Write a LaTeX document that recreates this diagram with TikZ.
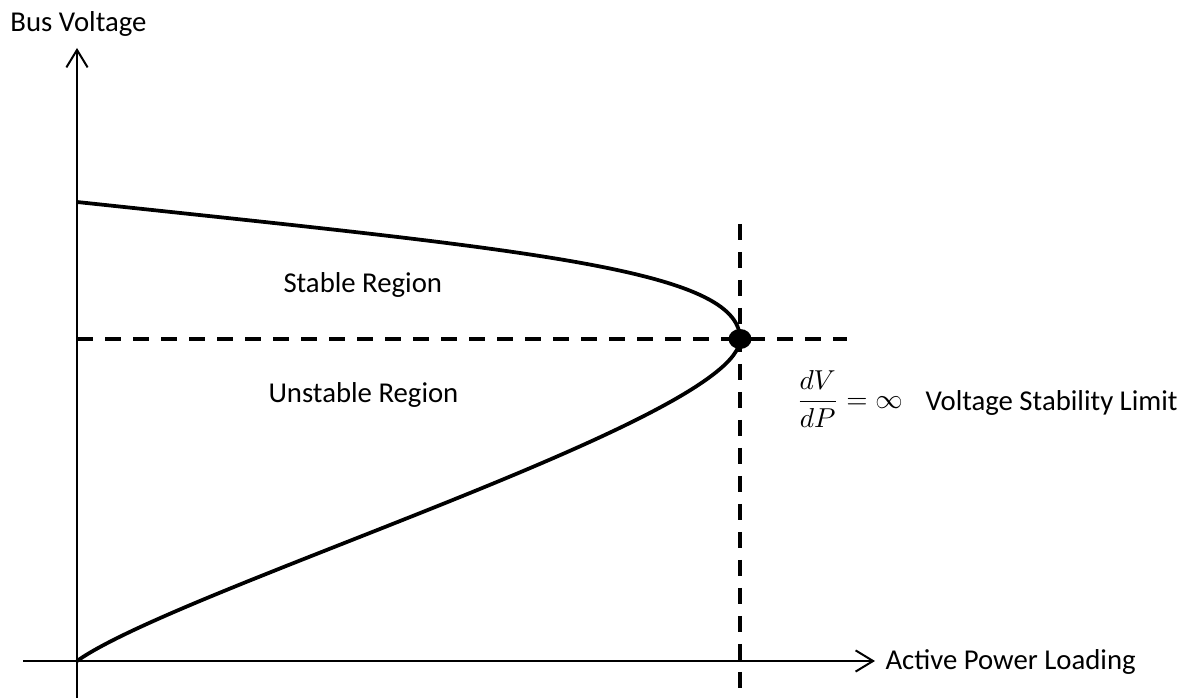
\documentclass[tikz,border=0pt]{standalone}
\usepackage{amsmath}
\usepackage{amssymb}
\usepackage{fontspec}
\setmainfont{Carlito}
\usetikzlibrary{arrows.meta}

\begin{document}
\begin{tikzpicture}[x=0.4pt,y=0.4pt,
  axis/.style={line width=0.8pt,-{Straight Barb[length=7pt,width=8.5pt]}},
  limitline/.style={line width=1.6pt,dash pattern=on 6.4pt off 4.8pt},
  pvcurve/.style={line width=1.5pt},
  lbl/.style={font=\fontsize{11.5}{14}\selectfont,inner sep=0pt,anchor=base west}]
\useasboundingbox (0,0) rectangle (1193,698);

\coordinate (O) at (77,37);
\coordinate (ybot) at (77,0);
\coordinate (ytop) at (77,650);
\coordinate (xleft) at (23,37);
\coordinate (xright) at (875,37);
\coordinate (vmax) at (77,496);
\coordinate (nose) at (740,359);
\coordinate (hstart) at (77,359);
\coordinate (hend) at (847,359);
\coordinate (vtop) at (740,474);
\coordinate (vbot) at (740,0);

\draw[axis] (ybot) -- (ytop);
\draw[axis] (xleft) -- (xright);
\node[lbl] (ylabel) at (10,666) {Bus Voltage};
\node[lbl] (xlabel) at (885,28) {Active Power Loading};

\draw[limitline] (hstart) -- (hend);
\draw[limitline] (vtop) -- (vbot);

\draw[pvcurve] (vmax) .. controls (527,448) and (740,429) .. (nose)
  .. controls (740,280) and (180,110) .. (O);
\fill (nose) ellipse [x radius=4.6pt, y radius=4pt];

\node[lbl] (stable) at (283,405) {Stable Region};
\node[lbl] (unstable) at (268,295) {Unstable Region};
\node[font=\fontsize{11}{14}\selectfont,inner sep=0pt,anchor=west] (dvdp) at (796,299) {$\displaystyle\frac{dV}{dP}=\infty$};
\node[lbl] (limit) at (925,287) {Voltage Stability Limit};
\end{tikzpicture}
\end{document}
